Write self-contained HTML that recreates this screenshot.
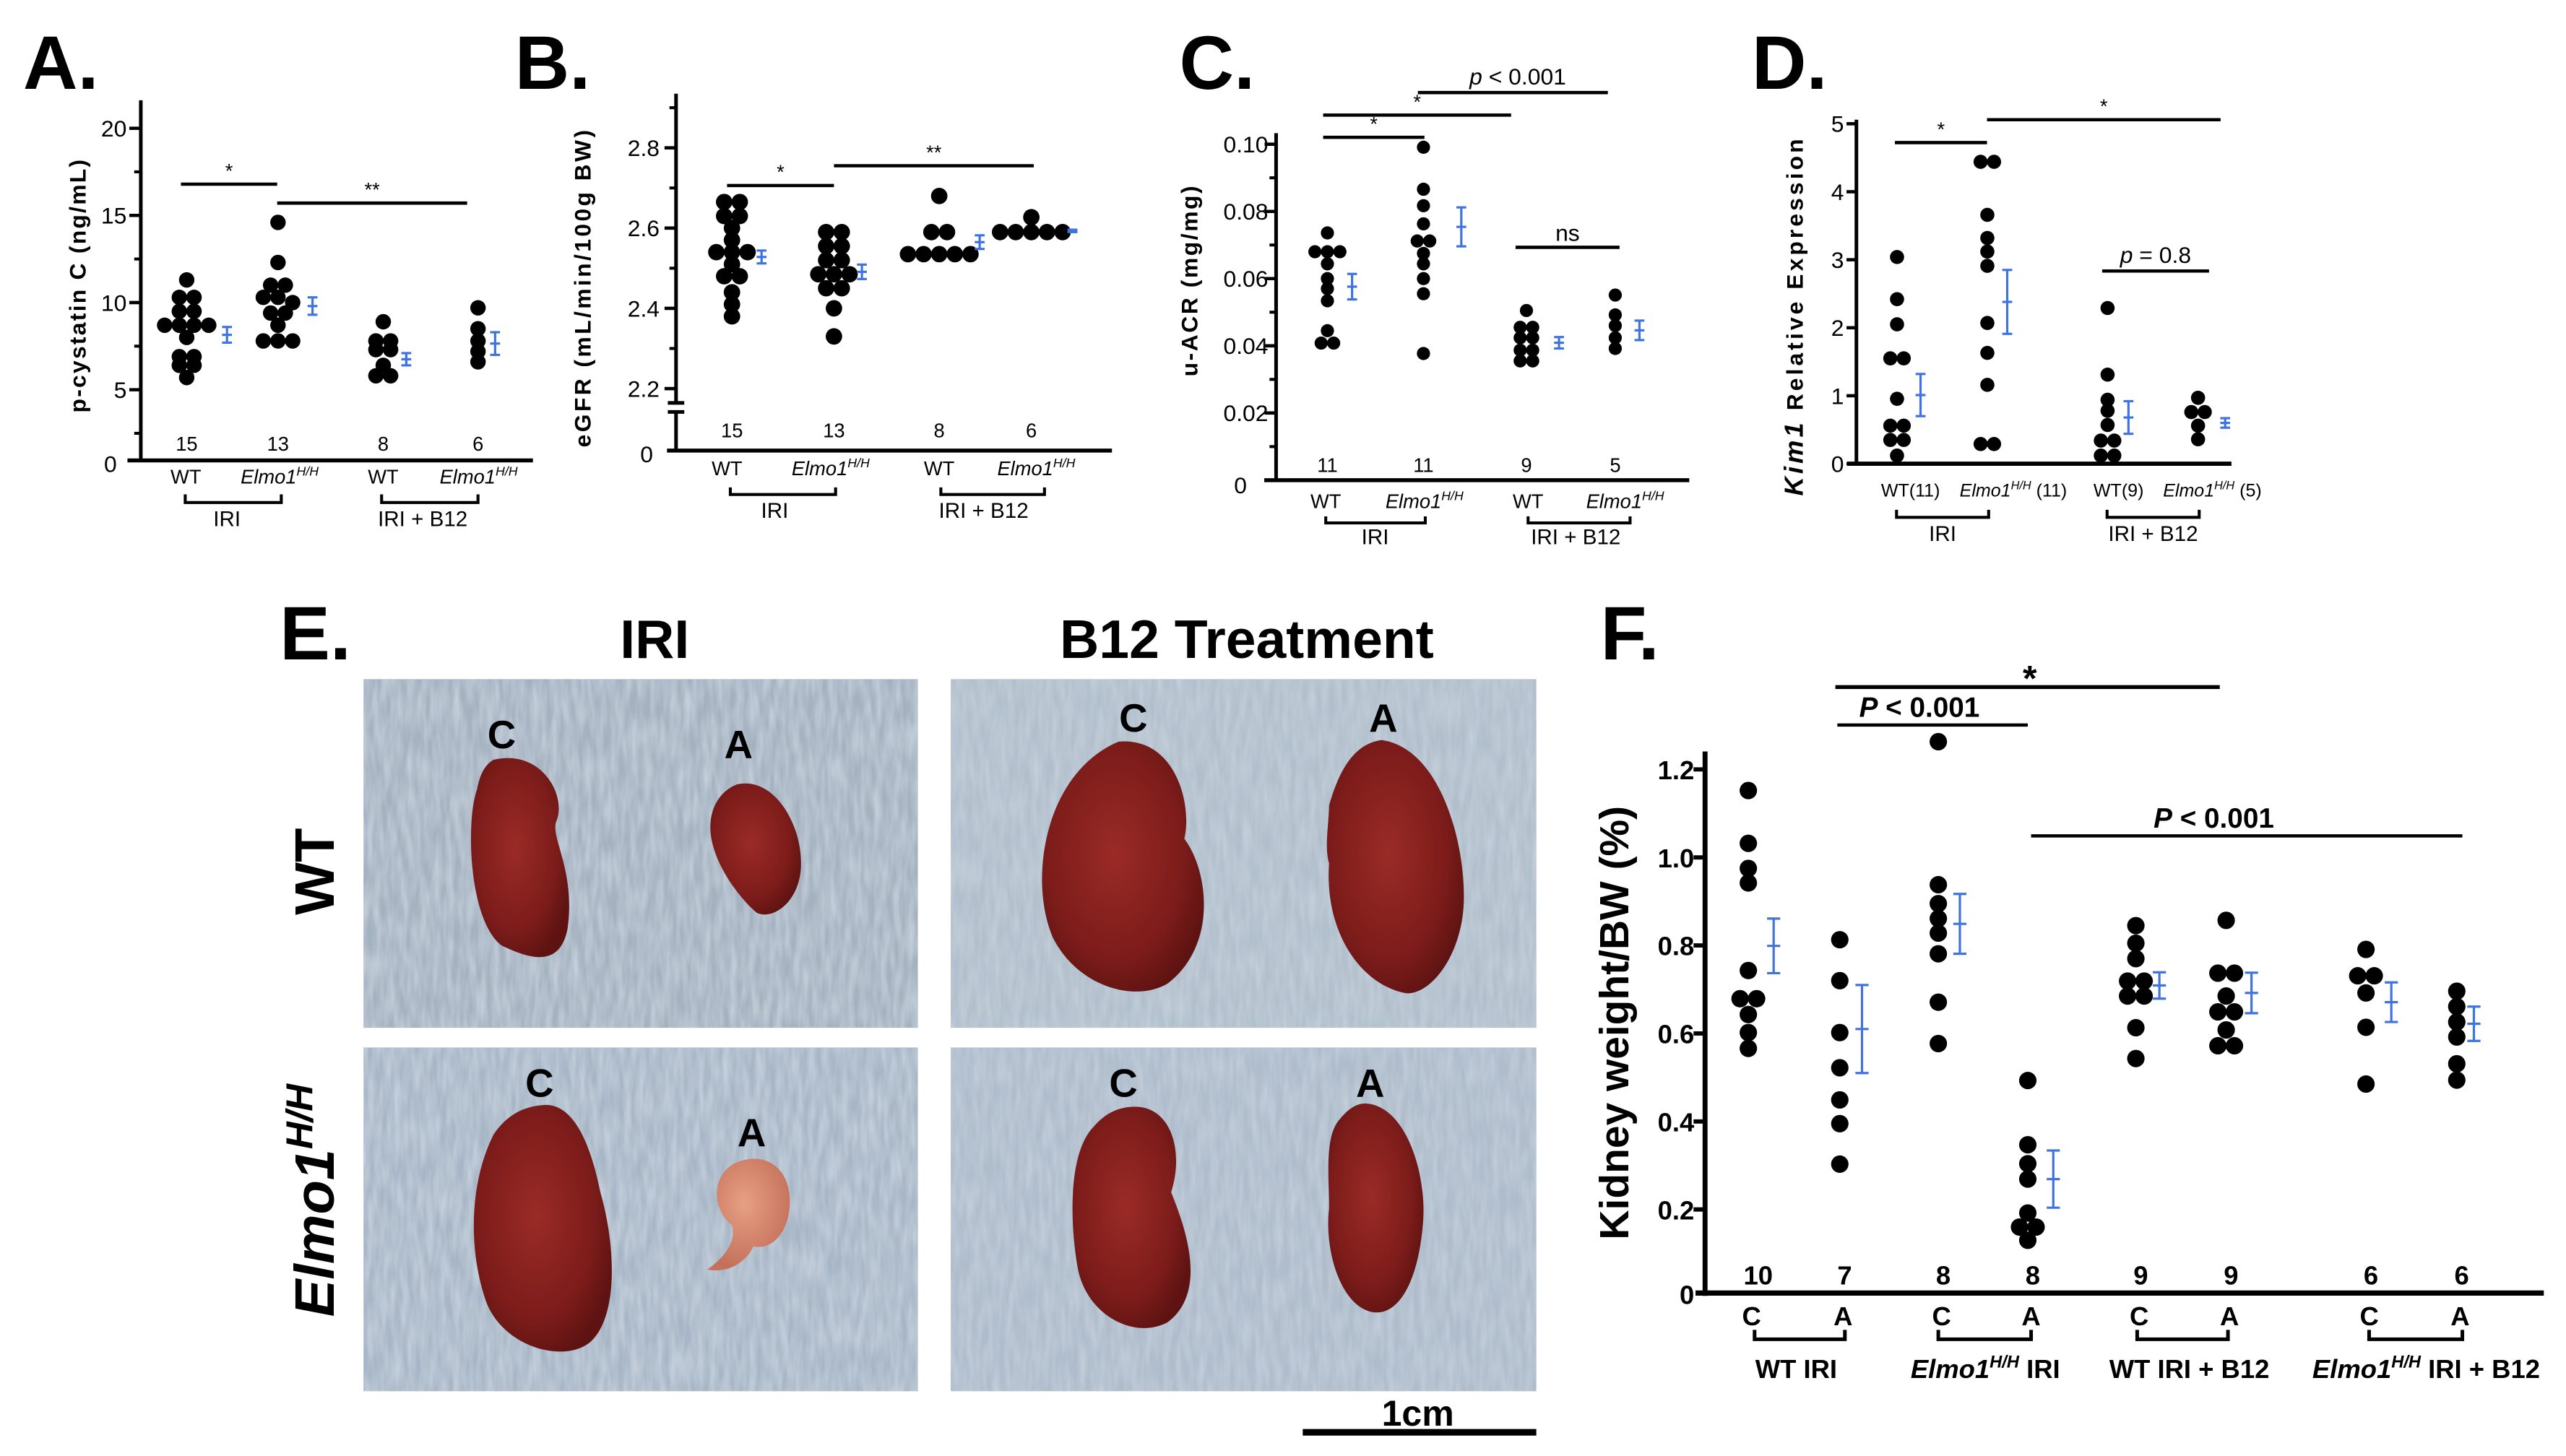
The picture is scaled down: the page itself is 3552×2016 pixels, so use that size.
<!DOCTYPE html>
<html><head><meta charset="utf-8">
<style>
html,body{margin:0;padding:0;background:#fff;}
svg{display:block;}
.t{font-family:"Liberation Sans Narrow","Liberation Sans",sans-serif;fill:#000;}
.b{font-family:"Liberation Sans",sans-serif;font-weight:bold;fill:#000;}
</style></head>
<body>
<svg id="fig" xmlns="http://www.w3.org/2000/svg" width="3552" height="2016" viewBox="0 0 1560 885.4">
<rect x="0" y="0" width="1560" height="885.4" fill="#fff"/>
<defs>
<filter id="noise" x="0" y="0" width="100%" height="100%">
<feTurbulence type="fractalNoise" baseFrequency="0.25 0.05" numOctaves="2" seed="3"/>
<feColorMatrix type="matrix" values="0 0 0 0 0.62  0 0 0 0 0.69  0 0 0 0 0.77  0 0 0 -1.2 0.9"/>
</filter>
<radialGradient id="kid" cx="45%" cy="45%" r="60%">
<stop offset="0" stop-color="#9a2b26"/><stop offset="0.7" stop-color="#7c1c1a"/><stop offset="1" stop-color="#5e1312"/>
</radialGradient>
<radialGradient id="kidA" cx="45%" cy="40%" r="60%">
<stop offset="0" stop-color="#e7a083"/><stop offset="1" stop-color="#c4705a"/>
</radialGradient>
</defs>

<text class="b" x="14" y="54" font-size="46">A.</text>
<text class="b" x="313" y="54" font-size="46">B.</text>
<text class="b" x="717" y="54" font-size="46">C.</text>
<text class="b" x="1065" y="54" font-size="46">D.</text>
<text class="b" x="170" y="401" font-size="46">E.</text>
<text class="b" x="973" y="401" font-size="46">F.</text>

<g id="panelE">
<text class="b" x="398" y="400" font-size="33" text-anchor="middle">IRI</text>
<text class="b" x="758" y="400" font-size="33" text-anchor="middle">B12 Treatment</text>
<text class="b" transform="translate(203,530) rotate(-90)" font-size="34" text-anchor="middle">WT</text>
<text class="b" transform="translate(203,730) rotate(-90)" font-size="34" text-anchor="middle" font-style="italic">Elmo1<tspan font-size="23" dy="-13">H/H</tspan></text>

<g>
<rect x="221" y="413" width="337" height="212" fill="#a4b1bf"/>
<rect x="221" y="413" width="337" height="212" filter="url(#noise)"/>
<path d="M300,462 C330,455 345,485 338,500 C335,510 350,530 345,565 C340,590 320,582 305,575 C285,560 283,500 290,480 C292,470 295,465 300,462 Z" fill="url(#kid)"/>
<path d="M448,477 C470,472 487,500 487,525 C487,548 470,560 460,555 C448,545 430,520 432,500 C433,488 440,480 448,477 Z" fill="url(#kid)"/>
<text class="b" x="305" y="455" font-size="24" text-anchor="middle">C</text>
<text class="b" x="449" y="461" font-size="24" text-anchor="middle">A</text>
</g>
<g>
<rect x="578" y="413" width="356" height="212" fill="#b1bfcc"/>
<rect x="578" y="413" width="356" height="212" filter="url(#noise)" opacity="0.8"/>
<path d="M680,451 C715,448 725,490 720,510 C735,530 740,575 710,598 C690,610 655,600 640,570 C625,535 635,470 680,451 Z" fill="url(#kid)"/>
<path d="M840,450 C875,455 890,510 890,545 C890,580 870,605 855,604 C830,600 805,570 808,525 C805,515 808,500 808,490 C815,465 825,452 840,450 Z" fill="url(#kid)"/>
<text class="b" x="689" y="445" font-size="24" text-anchor="middle">C</text>
<text class="b" x="841" y="445" font-size="24" text-anchor="middle">A</text>
</g>
<g>
<rect x="221" y="637" width="337" height="209" fill="#a7b6c6"/>
<rect x="221" y="637" width="337" height="209" filter="url(#noise)"/>
<path d="M330,672 C350,670 360,700 365,725 C375,760 375,800 360,815 C345,830 305,820 295,790 C285,760 285,720 300,690 C308,678 318,673 330,672 Z" fill="url(#kid)"/>
<path d="M450,706 C470,700 482,715 480,735 C478,752 468,760 458,758 C455,765 445,775 430,772 C440,765 448,755 445,745 C432,735 432,712 450,706 Z" fill="url(#kidA)"/>
<text class="b" x="328" y="667" font-size="24" text-anchor="middle">C</text>
<text class="b" x="457" y="697" font-size="24" text-anchor="middle">A</text>
</g>
<g>
<rect x="578" y="637" width="356" height="209" fill="#aebccb"/>
<rect x="578" y="637" width="356" height="209" filter="url(#noise)" opacity="0.8"/>
<path d="M690,673 C712,673 720,700 712,725 C720,745 735,785 710,804 C690,815 660,800 655,770 C650,740 650,700 665,685 C672,677 680,673 690,673 Z" fill="url(#kid)"/>
<path d="M830,671 C855,672 868,715 865,745 C862,780 850,800 835,798 C815,795 805,760 808,735 C808,715 805,690 815,680 C820,674 825,671 830,671 Z" fill="url(#kid)"/>
<text class="b" x="683" y="667" font-size="24" text-anchor="middle">C</text>
<text class="b" x="833" y="667" font-size="24" text-anchor="middle">A</text>
</g>
<line x1="792" y1="871" x2="934" y2="871" stroke="#000" stroke-width="4"/>
<text class="b" x="862" y="867" font-size="22" text-anchor="middle">1cm</text>
</g>

<g id="charts"></g>
</svg>

<script>
const aCategories = ['WT IRI', 'Elmo1 IRI', 'WT IRI+B12', 'Elmo1 IRI+B12'];
const aWT = [11.3, 10.3, 10.3, 9.5, 9.5, 8.7, 8.7, 8.7, 8.7, 8.0, 6.9, 6.9, 6.4, 6.4, 5.7];
const aElmo = [14.6, 12.3, 11.0, 11.0, 10.3, 10.3, 10.0, 9.4, 9.4, 8.7, 7.8, 7.8, 7.8];
const aWTB12 = [8.9, 7.8, 7.8, 7.3, 7.3, 6.4, 5.8, 5.8];
const aElmoB12 = [9.7, 8.5, 7.8, 7.2, 6.6];
const aMean = [8.15, 9.8, 6.75, 7.65];
const aSem = [0.45, 0.5, 0.35, 0.65];
const aN = ['15', '13', '8', '6'];
const aTicks = [5, 10, 15, 20];

const bWT = [2.665, 2.665, 2.63, 2.63, 2.60, 2.57, 2.54, 2.54, 2.54, 2.51, 2.48, 2.48, 2.44, 2.41, 2.38];
const bElmo = [2.59, 2.59, 2.555, 2.555, 2.52, 2.52, 2.485, 2.485, 2.485, 2.45, 2.45, 2.40, 2.33];
const bWTB12 = [2.68, 2.59, 2.59, 2.535, 2.535, 2.535, 2.535, 2.535];
const bElmoB12 = [2.627, 2.59, 2.59, 2.59, 2.59, 2.59];
const bMean = [2.528, 2.491, 2.565, 2.593];
const bSem = [0.016, 0.018, 0.017, 0.003];
const bN = ['15', '13', '8', '6'];
const bTicks = [2.2, 2.4, 2.6, 2.8];

const cWT = [0.0736, 0.068, 0.068, 0.068, 0.0644, 0.060, 0.057, 0.0534, 0.0445, 0.0408, 0.0408];
const cElmo = [0.0991, 0.0866, 0.0817, 0.0763, 0.0712, 0.0712, 0.0675, 0.0644, 0.060, 0.0555, 0.0377];
const cWTB12 = [0.0505, 0.0455, 0.0455, 0.0424, 0.0424, 0.0387, 0.0387, 0.0355, 0.0355];
const cElmoB12 = [0.0551, 0.0492, 0.046, 0.0424, 0.0392];
const cMean = [0.0576, 0.0754, 0.0409, 0.0446];
const cSem = [0.0038, 0.0058, 0.0017, 0.0029];
const cN = ['11', '11', '9', '5'];
const cTicks = [0, 0.02, 0.04, 0.06, 0.08, 0.10];

const dWT = [3.04, 2.42, 2.05, 1.55, 1.55, 0.955, 0.56, 0.56, 0.35, 0.35, 0.12];
const dElmo = [4.44, 4.44, 3.66, 3.32, 3.12, 2.91, 2.07, 1.63, 1.16, 0.29, 0.29];
const dWTB12 = [2.29, 1.31, 0.94, 0.78, 0.57, 0.34, 0.34, 0.12, 0.12];
const dElmoB12 = [0.97, 0.76, 0.76, 0.56, 0.36];
const dMean = [1.01, 2.38, 0.68, 0.60];
const dSem = [0.31, 0.47, 0.24, 0.07];
const dTicks = [0, 1, 2, 3, 4, 5];

const fCategories = ['WT IRI C', 'WT IRI A', 'Elmo1 IRI C', 'Elmo1 IRI A', 'WT B12 C', 'WT B12 A', 'Elmo1 B12 C', 'Elmo1 B12 A'];
const fWTC = [1.152, 1.032, 0.975, 0.942, 0.743, 0.679, 0.679, 0.643, 0.602, 0.566];
const fWTA = [0.813, 0.72, 0.602, 0.522, 0.449, 0.395, 0.303];
const fElmoC = [1.263, 0.938, 0.895, 0.861, 0.828, 0.781, 0.671, 0.577];
const fElmoA = [0.493, 0.347, 0.304, 0.269, 0.192, 0.16, 0.16, 0.13];
const fWTB12C = [0.845, 0.805, 0.77, 0.719, 0.719, 0.685, 0.685, 0.613, 0.543];
const fWTB12A = [0.857, 0.737, 0.737, 0.685, 0.649, 0.649, 0.608, 0.572, 0.572];
const fElmoB12C = [0.791, 0.731, 0.731, 0.692, 0.614, 0.485];
const fElmoB12A = [0.696, 0.661, 0.626, 0.592, 0.531, 0.494];
const fMean = [0.799, 0.61, 0.849, 0.269, 0.709, 0.692, 0.671, 0.622];
const fSem = [0.062, 0.10, 0.068, 0.065, 0.03, 0.046, 0.045, 0.039];
const fN = ['10', '7', '8', '8', '9', '9', '6', '6'];
const fTicks = [0.2, 0.4, 0.6, 0.8, 1.0, 1.2];

const NS = 'http://www.w3.org/2000/svg';
const root = document.getElementById('charts');
const BLUE = '#3f73e0';

function mk(tag, parent) {
  const e = document.createElementNS(NS, tag);
  (parent || root).appendChild(e);
  return e;
}
function line(p, x1, y1, x2, y2, w, col) {
  const l = mk('line', p);
  l.setAttribute('x1', x1); l.setAttribute('y1', y1);
  l.setAttribute('x2', x2); l.setAttribute('y2', y2);
  l.setAttribute('stroke', col || '#000'); l.setAttribute('stroke-width', w);
  return l;
}
function txt(p, x, y, s, size, cls, anchor) {
  const t = mk('text', p);
  t.setAttribute('x', x); t.setAttribute('y', y);
  t.setAttribute('font-size', size);
  t.setAttribute('class', cls || 't');
  t.setAttribute('text-anchor', anchor || 'middle');
  t.textContent = s;
  return t;
}
function elmoLabel(p, x, y, size, cls, suffix) {
  const t = mk('text', p);
  t.setAttribute('x', x); t.setAttribute('y', y);
  t.setAttribute('font-size', size);
  t.setAttribute('class', cls);
  t.setAttribute('text-anchor', 'middle');
  const a = document.createElementNS(NS, 'tspan');
  a.setAttribute('font-style', 'italic'); a.textContent = 'Elmo1'; t.appendChild(a);
  const b = document.createElementNS(NS, 'tspan');
  b.setAttribute('font-style', 'italic'); b.setAttribute('font-size', size * 0.65);
  b.setAttribute('dy', -size * 0.4); b.textContent = 'H/H'; t.appendChild(b);
  if (suffix) {
    const c = document.createElementNS(NS, 'tspan');
    c.setAttribute('dy', size * 0.4); c.textContent = suffix; t.appendChild(c);
  }
  return t;
}
function swarm(p, vals, cx, r, yf, name) {
  const sorted = vals.slice().sort((a, b) => b - a);
  const rows = [];
  sorted.forEach(v => {
    const y = yf(v);
    const last = rows[rows.length - 1];
    if (last && Math.abs(last.y - y) < r * 0.9) last.items.push(v);
    else rows.push({ y: y, items: [v] });
  });
  rows.forEach(row => {
    const n = row.items.length;
    row.items.forEach((v, i) => {
      const c = mk('circle', p);
      
      
      c.setAttribute('cx', cx + (i - (n - 1) / 2) * r * 1.9);
      c.setAttribute('cy', yf(v));
      c.setAttribute('r', r);
      c.setAttribute('fill', '#000');
    });
  });
}
function errBar(p, x, mean, sem, yf, cap, name) {
  const g = mk('g', p);
  
  
  line(g, x, yf(mean + sem), x, yf(mean - sem), 1.4, BLUE);
  line(g, x - cap, yf(mean + sem), x + cap, yf(mean + sem), 1.4, BLUE);
  line(g, x - cap, yf(mean - sem), x + cap, yf(mean - sem), 1.4, BLUE);
  line(g, x - cap, yf(mean), x + cap, yf(mean), 1.4, BLUE);
}
function sigBar(p, x1, x2, y, label, size, name, italicP) {
  const g = mk('g', p);
  
  
  line(g, x1, y, x2, y, 2);
  if (italicP) {
    const t = txt(g, (x1 + x2) / 2 + (italicP.dx || 0), y - 5, '', size, italicP.cls || 't');
    const a = document.createElementNS(NS, 'tspan');
    a.setAttribute('font-style', 'italic'); a.textContent = italicP.p; t.appendChild(a);
    const b = document.createElementNS(NS, 'tspan');
    b.textContent = label; t.appendChild(b);
  } else {
    txt(g, (x1 + x2) / 2, y - 4, label, size, 't');
  }
}
function bracket(p, x1, x2, y1, y2, w, name) {
  const b = mk('path', p);
  
  
  b.setAttribute('d', `M${x1},${y1} V${y2} H${x2} V${y1}`);
  b.setAttribute('fill', 'none'); b.setAttribute('stroke', '#000'); b.setAttribute('stroke-width', w);
}

(function () {
  const g = mk('g');
  
  
  const y = v => 290 - v * 10.6;
  const ax = 85.6;
  line(g, ax, 61, ax, 281, 2.2);
  line(g, 77.5, 280, 324, 280, 2.4);
  aTicks.forEach(t => {
    line(g, ax - 7, y(t), ax, y(t), 2);
    line(g, ax - 4, y(t - 2.5), ax, y(t - 2.5), 1.8);
    txt(g, 77, y(t) + 5, String(t), 14, 't', 'end');
  });
  txt(g, 71, 287, '0', 14, 't', 'end');
  const yt = txt(g, 0, 0, 'p-cystatin C (ng/mL)', 14, 'b');
  yt.setAttribute('transform', 'translate(52,174) rotate(-90)');
  yt.setAttribute('textLength', '154');
  
  const cx = [113.5, 169, 233, 290.6], ex = [138, 190, 247, 301];
  [aWT, aElmo, aWTB12, aElmoB12].forEach((vals, i) => {
    swarm(g, vals, cx[i], 4.7, y, 'dot-a-' + i);
    errBar(g, ex[i], aMean[i], aSem[i], y, 3, 'mean-sem-a-' + i);
    txt(g, cx[i], 274, aN[i], 12, 't');
  });
  txt(g, 113, 294, 'WT', 12, 't'); elmoLabel(g, 170, 294, 12, 't');
  txt(g, 233, 294, 'WT', 12, 't'); elmoLabel(g, 291, 294, 12, 't');
  bracket(g, 112.6, 171, 300.6, 305.6, 1.8, 'iri-bracket');
  bracket(g, 232, 290.6, 300.6, 305.6, 1.8, 'b12-bracket');
  txt(g, 138, 320, 'IRI', 13, 't'); txt(g, 257, 320, 'IRI + B12', 13, 't');
  sigBar(g, 110, 168.5, 112, '*', 12, 'sig-a-1');
  sigBar(g, 168.5, 284, 123.5, '**', 12, 'sig-a-2');
})();

(function () {
  const g = mk('g');
  
  
  const y = v => 138.7 - (v - 2.6) * 244;
  const ax = 411;
  line(g, ax, 57, ax, 246, 2.2);
  line(g, ax, 250.5, ax, 274, 2.2);
  line(g, 406, 245, 416, 245, 2.2); line(g, 406, 250.5, 416, 250.5, 2.2);
  line(g, 405.5, 274, 676, 274, 2.4);
  bTicks.forEach(t => {
    line(g, ax - 7, y(t), ax, y(t), 2);
    line(g, ax - 4, y(t + 0.1), ax, y(t + 0.1), 1.8);
    txt(g, 401, y(t) + 5, t.toFixed(1), 14, 't', 'end');
  });
  txt(g, 397, 281, '0', 14, 't', 'end');
  const yt = txt(g, 0, 0, 'eGFR  (mL/min/100g BW)', 14, 'b');
  yt.setAttribute('transform', 'translate(359,175.5) rotate(-90)');
  yt.setAttribute('textLength', '193');
  
  const cx = [445, 507, 571, 627], ex = [463, 524, 595.6, 652];
  [bWT, bElmo, bWTB12, bElmoB12].forEach((vals, i) => {
    swarm(g, vals, cx[i], 5, y, 'dot-b-' + i);
    errBar(g, ex[i], bMean[i], bSem[i], y, 3, 'mean-sem-b-' + i);
    txt(g, cx[i], 266, bN[i], 12, 't');
  });
  txt(g, 442, 289, 'WT', 12, 't'); elmoLabel(g, 505, 289, 12, 't');
  txt(g, 571, 289, 'WT', 12, 't'); elmoLabel(g, 630, 289, 12, 't');
  bracket(g, 444, 508, 296.4, 300.7, 1.8, 'iri-bracket');
  bracket(g, 572, 635, 296.4, 300.7, 1.8, 'b12-bracket');
  txt(g, 471, 315, 'IRI', 13, 't'); txt(g, 598, 315, 'IRI + B12', 13, 't');
  sigBar(g, 442, 507, 112.8, '*', 12, 'sig-b-1');
  sigBar(g, 507, 628.5, 100.8, '**', 12, 'sig-b-2');
})();

(function () {
  const g = mk('g');
  
  
  const y = v => 292 - v * 2043;
  const ax = 775.8;
  line(g, ax, 81, ax, 293, 2.2);
  line(g, 768.6, 292, 1027, 292, 2.4);
  cTicks.forEach(t => {
    if (t > 0) {
      line(g, ax - 7, y(t), ax, y(t), 2);
      line(g, ax - 4, y(t - 0.01), ax, y(t - 0.01), 1.8);
      txt(g, 771, y(t) + 5, t.toFixed(2), 14, 't', 'end');
    }
  });
  txt(g, 758, 300, '0', 14, 't', 'end');
  const yt = txt(g, 0, 0, 'u-ACR (mg/mg)', 14, 'b');
  yt.setAttribute('transform', 'translate(728,171) rotate(-90)');
  yt.setAttribute('textLength', '116');
  
  const cx = [807, 865.4, 928, 982], ex = [822, 888.4, 947.8, 996.7];
  [cWT, cElmo, cWTB12, cElmoB12].forEach((vals, i) => {
    swarm(g, vals, cx[i], 4, y, 'dot-c-' + i);
    errBar(g, ex[i], cMean[i], cSem[i], y, 3, 'mean-sem-c-' + i);
    txt(g, cx[i], 287, cN[i], 12, 't');
  });
  txt(g, 806, 309, 'WT', 12, 't'); elmoLabel(g, 866, 309, 12, 't');
  txt(g, 929, 309, 'WT', 12, 't'); elmoLabel(g, 988, 309, 12, 't');
  bracket(g, 806, 866.5, 314, 318, 1.8, 'iri-bracket');
  bracket(g, 929, 991, 314, 318, 1.8, 'b12-bracket');
  txt(g, 836, 331, 'IRI', 13, 't'); txt(g, 958, 331, 'IRI + B12', 13, 't');
  sigBar(g, 804.4, 866, 83.5, '*', 12, 'sig-c-1');
  sigBar(g, 804.4, 918.7, 70, '*', 12, 'sig-c-2');
  sigBar(g, 862, 977.5, 56.3, ' < 0.001', 14, 'sig-c-3', { p: 'p', dx: 3 });
  sigBar(g, 921.4, 984.6, 150.4, 'ns', 14, 'sig-c-ns');
})();

(function () {
  const g = mk('g');
  
  
  const y = v => 282 - v * 41.35;
  const ax = 1128.6;
  line(g, ax, 72.8, ax, 283, 2.2);
  line(g, 1123, 282, 1356.6, 282, 2.6);
  dTicks.forEach(t => {
    line(g, ax - 6, y(t), ax, y(t), 2);
    txt(g, 1121, y(t) + 5, String(t), 14, 't', 'end');
  });
  const yt = txt(g, 0, 0, '', 16, 'b');
  yt.setAttribute('transform', 'translate(1096,193) rotate(-90)');
  yt.setAttribute('textLength', '217');
  
  const k = document.createElementNS(NS, 'tspan');
  k.setAttribute('font-style', 'italic'); k.textContent = 'Kim1'; yt.appendChild(k);
  const k2 = document.createElementNS(NS, 'tspan');
  k2.setAttribute('font-size', 14); k2.textContent = ' Relative Expression'; yt.appendChild(k2);
  const cx = [1153.3, 1208.2, 1281.3, 1336.3], ex = [1167.6, 1220.3, 1294, 1352.8];
  [dWT, dElmo, dWTB12, dElmoB12].forEach((vals, i) => {
    swarm(g, vals, cx[i], 4.3, y, 'dot-d-' + i);
    errBar(g, ex[i], dMean[i], dSem[i], y, 3, 'mean-sem-d-' + i);
  });
  txt(g, 1161.5, 302, 'WT(11)', 11, 't'); elmoLabel(g, 1224, 302, 11, 't', ' (11)');
  txt(g, 1288, 302, 'WT(9)', 11, 't'); elmoLabel(g, 1345, 302, 11, 't', ' (5)');
  bracket(g, 1153, 1209, 310, 314.6, 1.8, 'iri-bracket');
  bracket(g, 1281, 1337, 310, 314.6, 1.8, 'b12-bracket');
  txt(g, 1181, 329, 'IRI', 13, 't'); txt(g, 1309, 329, 'IRI + B12', 13, 't');
  sigBar(g, 1152, 1208, 86.7, '*', 12, 'sig-d-1');
  sigBar(g, 1208, 1350, 72.8, '*', 12, 'sig-d-2');
  sigBar(g, 1278, 1343, 164.8, ' = 0.8', 14, 'sig-d-3', { p: 'p' });
})();

(function () {
  const g = mk('g');
  
  
  const y = v => 789 - v * 267.6;
  const ax = 1036.6;
  line(g, ax, 457, ax, 788, 3);
  line(g, 1030.8, 786.3, 1546.5, 786.3, 3.2);
  fTicks.forEach(t => {
    line(g, ax - 7, y(t), ax, y(t), 2.6);
    txt(g, 1030, y(t) + 6, t.toFixed(1), 16, 'b', 'end');
  });
  txt(g, 1030, 793, '0', 16, 'b', 'end');
  const yt = txt(g, 0, 0, 'Kidney weight/BW (%)', 25, 'b');
  yt.setAttribute('transform', 'translate(990,622) rotate(-90)');
  
  const cx = [1062.9, 1118.5, 1178.4, 1232.8, 1298.5, 1353.4, 1438.4, 1493.6];
  const ex = [1078.3, 1132, 1191.5, 1248.3, 1312.8, 1368.8, 1453.8, 1504];
  const lab = ['C', 'A', 'C', 'A', 'C', 'A', 'C', 'A'];
  [fWTC, fWTA, fElmoC, fElmoA, fWTB12C, fWTB12A, fElmoB12C, fElmoB12A].forEach((vals, i) => {
    swarm(g, vals, cx[i], 5.3, y, 'dot-f-' + i);
    errBar(g, ex[i], fMean[i], fSem[i], y, 4, 'mean-sem-f-' + i);
    txt(g, cx[i] + (i === 0 ? 6 : 3), 781, fN[i], 16, 'b');
    txt(g, cx[i] + 2, 806, lab[i], 16, 'b');
  });
  bracket(g, 1066.7, 1121.6, 808.7, 814.4, 2.2, 'wt-iri-bracket');
  bracket(g, 1178.4, 1234.8, 808.7, 814.4, 2.2, 'elmo-iri-bracket');
  bracket(g, 1299.3, 1354.5, 808.7, 814.4, 2.2, 'wt-b12-bracket');
  bracket(g, 1440.3, 1497, 808.7, 814.4, 2.2, 'elmo-b12-bracket');
  txt(g, 1092, 838, 'WT IRI', 16, 'b');
  elmoLabel(g, 1207, 838, 16, 'b', ' IRI');
  txt(g, 1331, 838, 'WT IRI + B12', 16, 'b');
  elmoLabel(g, 1475, 838, 16, 'b', ' IRI + B12');
  const s1 = mk('g', g);
  
  
  line(s1, 1115.8, 417.8, 1349.5, 417.8, 2.4);
  txt(s1, 1234, 420, '*', 22, 'b');
  sigBar(g, 1117, 1232.8, 440.9, ' < 0.001', 17, 'sig-f-p1', { p: 'P', cls: 'b', dx: -8 });
  sigBar(g, 1234.8, 1497, 508.3, ' < 0.001', 17, 'sig-f-p2', { p: 'P', cls: 'b', dx: -20 });
})();
</script>
</body></html>
